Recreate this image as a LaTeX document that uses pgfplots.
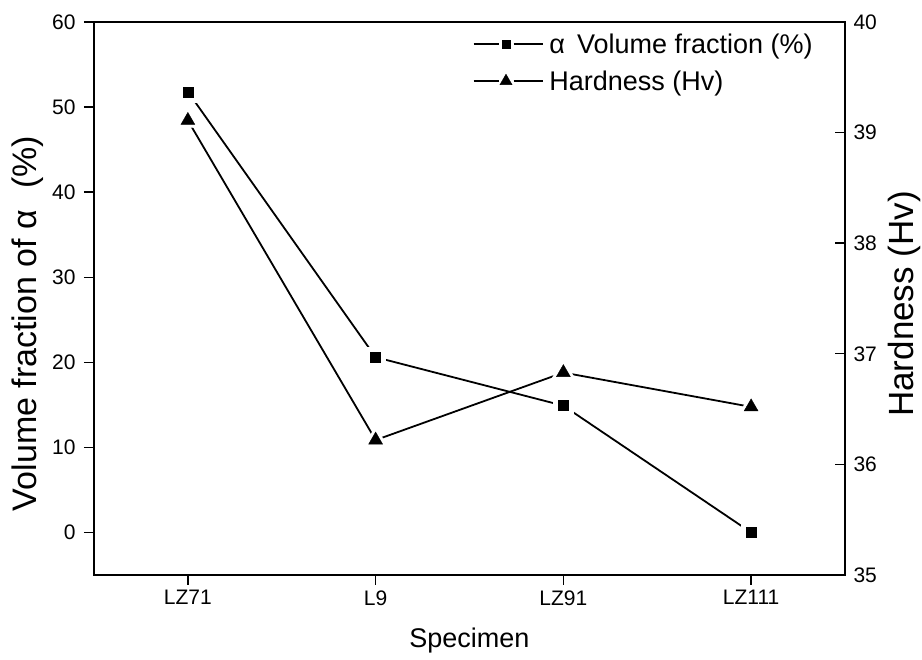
\documentclass[border=0pt]{standalone}
\usepackage{fontspec}
\setmainfont{Liberation Sans}
\usepackage{pgfplots}
\usepackage{pgfplotstable}
\pgfplotsset{compat=1.18}

% specimen index, alpha volume fraction (%), hardness (Hv)
\pgfplotstableread{
x frac hard
0 51.8 39.11
1 20.6 36.22
2 14.9 36.83
3 0.0  36.52
}\datatable

\pgfplotsset{
  common/.style={
    at={(0pt,0pt)}, anchor=south west,
    scale only axis, width=751pt, height=553pt,
    xmin=-0.5, xmax=3.5,
    /pgf/number format/assume math mode=true,
    axis line style={line width=1.4pt},
    major tick style={line width=1.4pt, black},
    major tick length=10pt,
    minor tick num=0,
  },
}

\begin{document}
\begin{tikzpicture}
\path[use as bounding box] (-94pt,-85pt) rectangle (828pt,575pt);

% left axis: volume fraction of alpha
\begin{axis}[common,
  ymin=-5, ymax=60,
  xtick={0,1,2,3}, xticklabels={LZ71,L9,LZ91,LZ111},
  ytick={0,10,20,30,40,50,60},
  xtick pos=bottom, ytick pos=left, tick align=outside,
  xticklabel style={font=\fontsize{21}{25}\selectfont, yshift=-2pt},
  yticklabel style={font=\fontsize{21}{25}\selectfont, xshift=-5pt},
  xlabel={Specimen},
  ylabel={Volume fraction of α\hspace{0.35em} (\%)},
  every axis x label/.style={at={(axis description cs:0.5,-0.118)}, anchor=center,
    font=\fontsize{27}{31}\selectfont},
  every axis y label/.style={at={(axis description cs:-0.088,0.455)}, anchor=center,
    rotate=90, font=\fontsize{34}{38}\selectfont},
]
\addplot[black, line width=1.8pt, forget plot] table[x=x, y=frac]{\datatable};
\addplot[only marks, mark=square*, mark size=10pt, draw=white, fill=white,
  mark options={draw=white, fill=white}, forget plot] table[x=x, y=frac]{\datatable};
\addplot[only marks, mark=square*, mark size=5pt, black,
  mark options={fill=black}, forget plot] table[x=x, y=frac]{\datatable};
\end{axis}

% right axis: hardness
\begin{axis}[common,
  ymin=35, ymax=40,
  axis x line=none,
  axis y line*=right,
  ytick={35,36,37,38,39,40},
  ytick pos=right, tick align=inside,
  yticklabel style={font=\fontsize{21}{25}\selectfont, xshift=5pt},
  ylabel={Hardness (Hv)},
  every axis y label/.style={at={(axis description cs:1.079,0.49)}, anchor=center,
    rotate=90, font=\fontsize{35}{39}\selectfont},
  legend style={draw=none, fill=none, at={(axis description cs:0.504,0.983)},
    anchor=north west, font=\fontsize{27}{31}\selectfont, inner sep=0pt,
    row sep=12pt,
    /tikz/every even column/.append style={column sep=0pt}},
  legend cell align=left,
  legend image code/.code={
    \draw[line width=1.6pt, black] (0pt,0pt) -- (25pt,0pt);
    \draw[line width=1.6pt, black] (40pt,0pt) -- (69pt,0pt);
    \draw[#1] plot coordinates {(32.5pt,0pt)};
  },
]
\addlegendimage{mark=square*, mark size=4pt, black, mark options={fill=black}}
\addlegendentry{\hspace{4pt}α\hspace{0.45em}Volume fraction (\%)}
\addlegendimage{mark=triangle*, mark size=7pt, black, mark options={fill=black}}
\addlegendentry{\hspace{4pt}Hardness (Hv)}

\addplot[black, line width=1.8pt, forget plot] table[x=x, y=hard]{\datatable};
\addplot[only marks, mark=triangle*, mark size=14pt, draw=white, fill=white,
  mark options={draw=white, fill=white}, forget plot] table[x=x, y=hard]{\datatable};
\addplot[only marks, mark=triangle*, mark size=8pt, black,
  mark options={fill=black}, forget plot] table[x=x, y=hard]{\datatable};
\end{axis}
\end{tikzpicture}
\end{document}
